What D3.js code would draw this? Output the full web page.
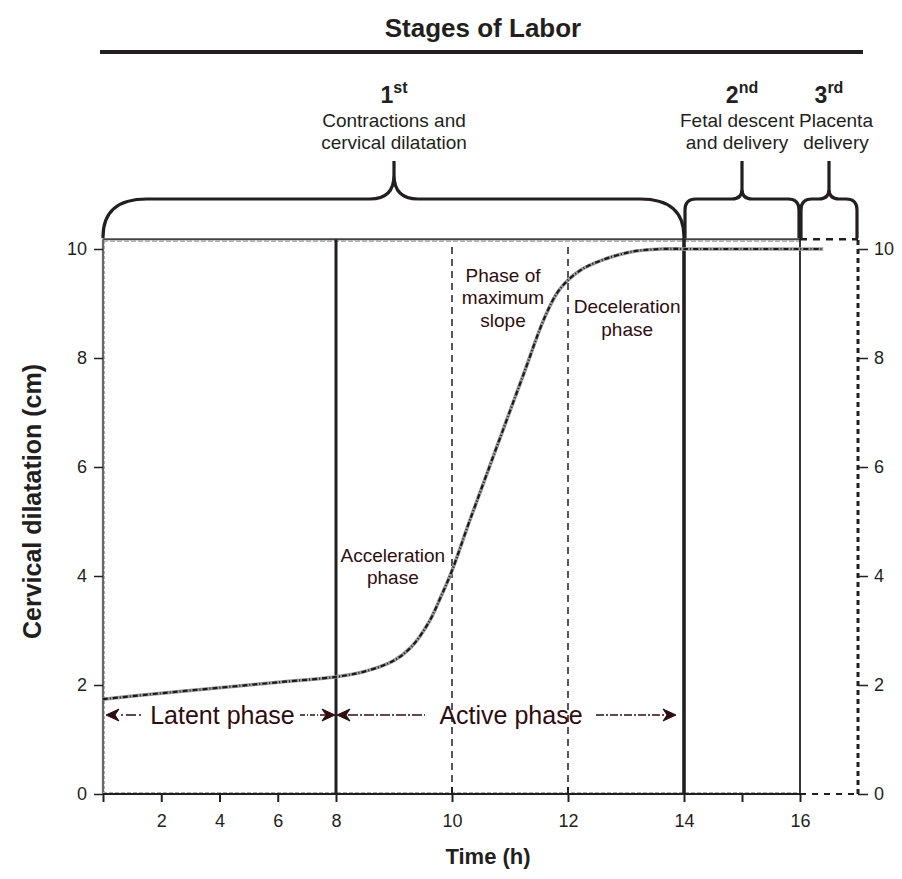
<!DOCTYPE html>
<html>
<head>
<meta charset="utf-8">
<script src="https://cdn.jsdelivr.net/npm/d3@7"></script>
<style>
  html, body { margin: 0; padding: 0; background: #fff; }
  svg { display: block; }
  text { font-family: "Liberation Sans", Arial, Helvetica, sans-serif; }
</style>
</head>
<body>
<svg id="chart" width="902" height="879"></svg>
<script>
// ---------------- data ----------------
const timeH      = [0, 2, 4, 6, 8, 8.5, 9, 9.3, 9.6, 9.8, 10, 10.3, 10.8, 11.25, 11.6, 11.85, 12.2, 12.6, 13.1, 13.6, 14, 15, 16, 16.4];
const dilationCm = [1.74, 1.85, 1.95, 2.05, 2.15, 2.25, 2.45, 2.7, 3.15, 3.6, 4.1, 5.0, 6.45, 7.75, 8.75, 9.25, 9.6, 9.8, 9.95, 10, 10, 10, 10, 10];
const xTickValues = [0, 2, 4, 6, 8, 10, 12, 14, 15, 16];
const xTickLabels = ["", "2", "4", "6", "8", "10", "12", "14", "", "16"];
const yTickValues = [0, 2, 4, 6, 8, 10];
const stageStart = [0, 14, 16];
const stageEnd   = [14, 16, 17];
const stageTip   = [9, 15, 16.5];
const stageNum   = ["1", "2", "3"];
const stageSup   = ["st", "nd", "rd"];
const stageDesc  = [["Contractions and", "cervical dilatation"], ["Fetal descent", "and delivery"], ["Placenta", "delivery"]];
const phaseBounds = [10, 12];
const phaseLabels = [["Acceleration", "phase"], ["Phase of", "maximum", "slope"], ["Deceleration", "phase"]];
const phaseLabelX = [8.98, 10.88, 13.02];
const phaseLabelY = [4.26, 9.4, 8.82];

// ---------------- scales ----------------
const svg = d3.select("#chart");
const x = d3.scaleLinear().domain([0, 8, 17]).range([103, 336, 858]);
const y = d3.scaleLinear().domain([0, 10]).range([794, 249]);
const ink = "#231f20";
const brown = "#2e0d10";
const yTopFrame = y(10.18);
const FONT = "'Liberation Sans', Arial, Helvetica, sans-serif";

// ---------------- title ----------------
svg.append("text").attr("x", 483).attr("y", 37).attr("text-anchor", "middle")
  .attr("font-size", 26).attr("font-weight", "bold").attr("fill", ink).text("Stages of Labor");
svg.append("line").attr("x1", 100).attr("x2", 863).attr("y1", 52).attr("y2", 52)
  .attr("stroke", ink).attr("stroke-width", 4);

// ---------------- braces ----------------
function bracePath(x0, x1, xm, yb, yt, ytip, rx, ry, rt) {
  return `M${x0},${yb} L${x0},${yt + ry} Q${x0},${yt} ${x0 + rx},${yt} L${xm - rt},${yt} Q${xm},${yt} ${xm},${yt - rt} L${xm},${ytip}` +
         ` M${xm},${ytip} L${xm},${yt - rt} Q${xm},${yt} ${xm + rt},${yt} L${x1 - rx},${yt} Q${x1},${yt} ${x1},${yt + ry} L${x1},${yb}`;
}
const descShift = [0, -5, 7];
stageStart.forEach((s, i) => {
  const big = i === 0;
  const x0 = x(s) + (big ? 0 : 1), x1 = x(stageEnd[i]) - (big ? 0 : 1), xm = x(stageTip[i]);
  svg.append("path")
    .attr("d", bracePath(x0, x1, xm, yTopFrame - 1, 199, 161, big ? 44 : 11, big ? 38 : 11, big ? 24 : 10))
    .attr("fill", "none").attr("stroke", ink).attr("stroke-width", 3.2).attr("stroke-linejoin", "round");
  const cx = xm + descShift[i];
  const t = svg.append("text").attr("x", xm).attr("y", 103).attr("text-anchor", "middle")
    .attr("font-weight", "bold").attr("fill", ink);
  t.append("tspan").attr("font-size", 23).text(stageNum[i]);
  t.append("tspan").attr("font-size", 16).attr("dy", -10).text(stageSup[i]);
  stageDesc[i].forEach((line, j) => {
    svg.append("text").attr("x", cx).attr("y", 127 + j * 22).attr("text-anchor", "middle")
      .attr("font-size", 19).attr("fill", ink).text(line);
  });
});

// ---------------- frame ----------------
svg.append("line").attr("x1", x(0)).attr("x2", x(16)).attr("y1", yTopFrame).attr("y2", yTopFrame)
  .attr("stroke", "#444").attr("stroke-width", 2);
svg.append("line").attr("x1", x(0)).attr("x2", x(16)).attr("y1", yTopFrame + 2).attr("y2", yTopFrame + 2)
  .attr("stroke", "#999").attr("stroke-width", 1.2).attr("stroke-dasharray", "5,2");
svg.append("line").attr("x1", x(16)).attr("x2", x(17)).attr("y1", yTopFrame).attr("y2", yTopFrame)
  .attr("stroke", ink).attr("stroke-width", 2.5).attr("stroke-dasharray", "7,6");
svg.append("line").attr("x1", x(0)).attr("x2", x(0)).attr("y1", y(0)).attr("y2", yTopFrame)
  .attr("stroke", "#666").attr("stroke-width", 2.2);
svg.append("line").attr("x1", x(0) + 1.5).attr("x2", x(0) + 1.5).attr("y1", y(0)).attr("y2", yTopFrame)
  .attr("stroke", "#aaa").attr("stroke-width", 1).attr("stroke-dasharray", "3,2");
svg.append("line").attr("x1", x(17)).attr("x2", x(17)).attr("y1", y(0)).attr("y2", yTopFrame)
  .attr("stroke", ink).attr("stroke-width", 3).attr("stroke-dasharray", "5,4");
svg.append("line").attr("x1", x(0)).attr("x2", x(16)).attr("y1", y(0)).attr("y2", y(0))
  .attr("stroke", ink).attr("stroke-width", 2.2);
svg.append("line").attr("x1", x(0)).attr("x2", x(16)).attr("y1", y(0) - 1.5).attr("y2", y(0) - 1.5)
  .attr("stroke", "#aaa").attr("stroke-width", 1).attr("stroke-dasharray", "4,2");
svg.append("line").attr("x1", x(16)).attr("x2", x(17)).attr("y1", y(0)).attr("y2", y(0))
  .attr("stroke", ink).attr("stroke-width", 2.2).attr("stroke-dasharray", "6,6");

// ---------------- vertical stage / phase lines ----------------
svg.append("line").attr("x1", x(8)).attr("x2", x(8)).attr("y1", y(0)).attr("y2", yTopFrame)
  .attr("stroke", ink).attr("stroke-width", 3);
svg.append("line").attr("x1", x(14)).attr("x2", x(14)).attr("y1", y(0)).attr("y2", yTopFrame - 1)
  .attr("stroke", ink).attr("stroke-width", 3.6);
svg.append("line").attr("x1", x(16)).attr("x2", x(16)).attr("y1", y(0)).attr("y2", yTopFrame - 1)
  .attr("stroke", ink).attr("stroke-width", 1.8);
phaseBounds.forEach(v => {
  svg.append("line").attr("x1", x(v)).attr("x2", x(v)).attr("y1", y(0)).attr("y2", yTopFrame + 3)
    .attr("stroke", ink).attr("stroke-width", 1.5).attr("stroke-dasharray", "7,5");
});

// ---------------- axes ----------------
const xAxis = d3.axisBottom(x).tickValues(xTickValues).tickSize(8).tickPadding(12)
  .tickFormat((d, i) => xTickLabels[i]);
const gx = svg.append("g").attr("transform", `translate(0,${y(0)})`).call(xAxis);
gx.select(".domain").remove();
gx.selectAll("line").attr("stroke", ink).attr("stroke-width", 2);
gx.selectAll("text").attr("font-size", 18).attr("fill", ink).attr("font-family", FONT);
phaseBounds.forEach(v => {
  svg.append("line").attr("x1", x(v)).attr("x2", x(v)).attr("y1", y(0)).attr("y2", y(0) - 7)
    .attr("stroke", ink).attr("stroke-width", 2);
});

const yAxisL = d3.axisLeft(y).tickValues(yTickValues).tickSize(9).tickPadding(7);
const gyl = svg.append("g").attr("transform", `translate(${x(0)},0)`).call(yAxisL);
gyl.select(".domain").remove();
gyl.selectAll("line").attr("stroke", ink).attr("stroke-width", 1.5);
gyl.selectAll("text").attr("font-size", 18).attr("fill", ink).attr("font-family", FONT);

const yAxisR = d3.axisRight(y).tickValues(yTickValues).tickSize(10).tickPadding(6);
const gyr = svg.append("g").attr("transform", `translate(${x(17)},0)`).call(yAxisR);
gyr.select(".domain").remove();
gyr.selectAll("line").attr("stroke", ink).attr("stroke-width", 1.5);
gyr.selectAll("text").attr("font-size", 18).attr("fill", ink).attr("font-family", FONT);

// axis titles
svg.append("text").attr("x", 488).attr("y", 864).attr("text-anchor", "middle")
  .attr("font-size", 22).attr("font-weight", "bold").attr("fill", ink).text("Time (h)");
svg.append("text").attr("transform", `translate(41,${y(5) - 20}) rotate(-90)`).attr("text-anchor", "middle")
  .attr("font-size", 25).attr("font-weight", "bold").attr("fill", ink).text("Cervical dilatation (cm)");

// ---------------- dilatation curve ----------------
const pts = timeH.map((t, i) => [t, dilationCm[i]]);
const line = d3.line().x(d => x(d[0])).y(d => y(d[1])).curve(d3.curveCatmullRom.alpha(0.5));
svg.append("path").datum(pts).attr("d", line).attr("fill", "none")
  .attr("stroke", "#9a9a9a").attr("stroke-width", 3.6);
svg.append("path").datum(pts).attr("d", line).attr("fill", "none")
  .attr("stroke", "#1a1a1a").attr("stroke-width", 2.2).attr("stroke-dasharray", "5,2,1,2");

// ---------------- phase labels ----------------
phaseLabels.forEach((lines, i) => {
  lines.forEach((l, j) => {
    svg.append("text").attr("x", x(phaseLabelX[i])).attr("y", y(phaseLabelY[i]) + j * 22.5)
      .attr("text-anchor", "middle").attr("font-size", 19).attr("fill", brown).text(l);
  });
});

// ---------------- latent / active arrows ----------------
const yArr = 715;
function head(tipX, dir) {
  const L = 13, W = 6, N = 4;
  return `M${tipX},${yArr} L${tipX - dir * L},${yArr - W} L${tipX - dir * (L - N)},${yArr} L${tipX - dir * L},${yArr + W} Z`;
}
const arrowG = svg.append("g").attr("fill", brown).attr("stroke", brown);
arrowG.append("path").attr("d", head(x(0) + 3, -1)).attr("stroke-width", 1);
arrowG.append("line").attr("x1", x(0) + 18).attr("x2", x(0) + 38).attr("y1", yArr).attr("y2", yArr)
  .attr("stroke-width", 1.5).attr("stroke-dasharray", "2,3,10,3");
arrowG.append("line").attr("x1", x(8) - 36).attr("x2", x(8) - 10).attr("y1", yArr).attr("y2", yArr)
  .attr("stroke-width", 1.5).attr("stroke-dasharray", "5,2,1,2");
arrowG.append("path").attr("d", head(x(8) - 1, 1)).attr("stroke-width", 1);
arrowG.append("path").attr("d", head(x(8) + 1, -1)).attr("stroke-width", 1);
arrowG.append("line").attr("x1", x(8) + 12).attr("x2", x(8) + 89).attr("y1", yArr).attr("y2", yArr)
  .attr("stroke-width", 1.5).attr("stroke-dasharray", "10,2,2,2");
arrowG.append("line").attr("x1", x(14) - 88).attr("x2", x(14) - 18).attr("y1", yArr).attr("y2", yArr)
  .attr("stroke-width", 1.5).attr("stroke-dasharray", "8,2,2,2");
arrowG.append("path").attr("d", head(x(14) - 8, 1)).attr("stroke-width", 1);

svg.append("text").attr("x", x(4) + 3).attr("y", yArr + 9).attr("text-anchor", "middle")
  .attr("font-size", 25).attr("fill", brown).text("Latent phase");
svg.append("text").attr("x", x(11) + 1).attr("y", yArr + 9).attr("text-anchor", "middle")
  .attr("font-size", 25).attr("fill", brown).text("Active phase");
</script>
</body>
</html>
